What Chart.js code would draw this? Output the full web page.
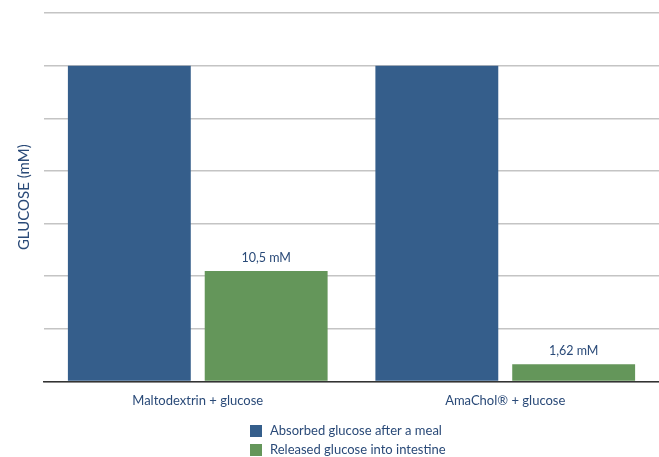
<!DOCTYPE html>
<html>
<head>
<meta charset="utf-8">
<script src="https://cdn.jsdelivr.net/npm/chart.js@4/dist/chart.umd.min.js"></script>
<style>
html,body{margin:0;padding:0;background:#fff;}
#wrap{width:659px;height:457px;position:relative;}
</style>
</head>
<body>
<div id="wrap"><canvas id="c"></canvas></div>
<script>
const categories = ["Maltodextrin + glucose", "AmaChol\u00AE + glucose"];
const absorbedValues = [30, 30];
const releasedValues = [10.5, 1.62];
const releasedLabels = ["10,5 mM", "1,62 mM"];
const seriesNames = ["Absorbed glucose after a meal", "Released glucose into intestine"];
const yMax = 35;
const yStep = 5;

const BLUE = "#355e8b";
const GREEN = "#64965a";
const TEXT = "#2a4a78";
const FONT = "Lato, 'Open Sans', sans-serif";

const valueLabelPlugin = {
  id: "valueLabels",
  afterDatasetsDraw(chart) {
    const ctx = chart.ctx;
    const meta = chart.getDatasetMeta(1);
    ctx.save();
    ctx.font = "12.5px " + FONT;
    ctx.fillStyle = TEXT;
    ctx.textAlign = "center";
    ctx.textBaseline = "bottom";
    meta.data.forEach((bar, i) => {
      ctx.fillText(releasedLabels[i], bar.x, bar.y - 7);
    });
    ctx.restore();
  }
};

const stackedLegendPlugin = {
  id: "stackedLegend",
  afterDraw(chart) {
    const ctx = chart.ctx;
    ctx.save();
    ctx.font = "13px " + FONT;
    ctx.textBaseline = "middle";
    ctx.textAlign = "left";
    const x0 = 250, y0 = 431, dy = 19, box = 12;
    chart.data.datasets.forEach((ds, i) => {
      const y = y0 + i * dy;
      ctx.fillStyle = ds.backgroundColor;
      ctx.fillRect(x0, y - box / 2, box, box);
      ctx.fillStyle = TEXT;
      ctx.fillText(ds.label, x0 + 20, y);
    });
    ctx.restore();
  }
};

new Chart(document.getElementById("c"), {
  type: "bar",
  data: {
    labels: categories,
    datasets: [
      { label: seriesNames[0], data: absorbedValues, backgroundColor: BLUE },
      { label: seriesNames[1], data: releasedValues, backgroundColor: GREEN }
    ]
  },
  options: {
    responsive: true,
    maintainAspectRatio: false,
    animation: false,
    devicePixelRatio: 1,
    layout: { padding: { top: 13, right: 0, bottom: 36, left: 15 } },
    datasets: { bar: { barPercentage: 0.898, categoryPercentage: 0.89 } },
    plugins: {
      legend: { display: false },
      tooltip: { enabled: false }
    },
    scales: {
      x: {
        grid: { display: false, drawTicks: false },
        border: { display: true, color: "#333", width: 1.5 },
        ticks: { color: TEXT, font: { family: FONT, size: 13 }, padding: 12 }
      },
      y: {
        min: 0, max: yMax,
        ticks: { display: false, stepSize: yStep },
        grid: { color: "#c4c4c4", lineWidth: 1.5, drawTicks: false },
        border: { display: false },
        title: { display: true, text: "GLUCOSE (mM)", color: TEXT, font: { family: FONT, size: 15 }, padding: { top: 0, bottom: 11 } }
      }
    }
  },
  plugins: [valueLabelPlugin, stackedLegendPlugin]
});
</script>
</body>
</html>
